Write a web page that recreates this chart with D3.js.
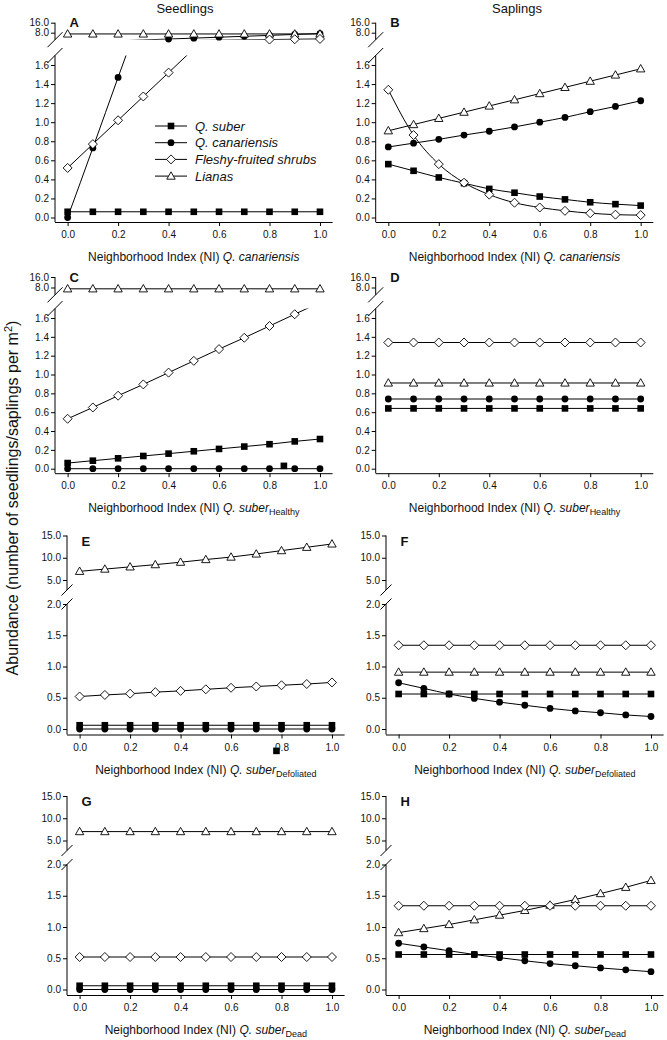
<!DOCTYPE html>
<html><head><meta charset="utf-8">
<script src="https://cdn.jsdelivr.net/npm/d3@7"></script>
<style>
body{margin:0;background:#fff}
svg{display:block}
text{font-family:"Liberation Sans",Arial,sans-serif;fill:#111}
</style>
</head><body>
<svg id="c" width="667" height="1040"></svg>
<script>
// ---------- DATA ----------
const niValues = [0, 0.1, 0.2, 0.3, 0.4, 0.5, 0.6, 0.7, 0.8, 0.9, 1.0];
const xTicks = [0, 0.2, 0.4, 0.6, 0.8, 1.0];
const seriesNames = ["Q. suber", "Q. canariensis", "Fleshy-fruited shrubs", "Lianas"];
const columnTitles = ["Seedlings", "Saplings"];
const panelLetters = ["A", "B", "C", "D", "E", "F", "G", "H"];
const yTicksLowSmall = [0, 0.2, 0.4, 0.6, 0.8, 1.0, 1.2, 1.4, 1.6];
const yTicksTopSmall = [8, 16];
const yTicksLowLarge = [0, 0.5, 1.0, 1.5, 2.0];
const yTicksTopLarge = [5, 10, 15];
const xTitleSpecies = ["Q. canariensis", "Q. suber", "Q. suber", "Q. suber"];
const xTitleSubscript = ["", "Healthy", "Defoliated", "Dead"];

// A: seedlings vs NI Q. canariensis
const A_suber = [0.06, 0.06, 0.06, 0.06, 0.06, 0.06, 0.06, 0.06, 0.06, 0.06, 0.06];
const A_canariensis = [0.00, 0.73, 1.47, 2.20, 2.93, 3.65, 4.40, 5.12, 5.85, 6.60, 7.32];
const A_fleshy = [0.52, 0.77, 1.02, 1.27, 1.52, 1.77, 2.02, 2.27, 2.52, 2.77, 3.02];
const A_lianas = [7.0, 7.0, 7.0, 7.0, 7.0, 7.0, 7.0, 7.0, 7.0, 7.0, 7.0];
// B: saplings vs NI Q. canariensis
const B_suber = [0.56, 0.49, 0.42, 0.36, 0.30, 0.26, 0.22, 0.19, 0.16, 0.14, 0.125];
const B_canariensis = [0.74, 0.78, 0.82, 0.865, 0.905, 0.95, 1.0, 1.05, 1.11, 1.165, 1.225];
const B_fleshy = [1.34, 0.865, 0.56, 0.365, 0.24, 0.155, 0.105, 0.07, 0.045, 0.03, 0.025];
const B_lianas = [0.91, 0.975, 1.04, 1.105, 1.17, 1.235, 1.30, 1.365, 1.43, 1.495, 1.56];
// C: seedlings vs NI Q. suber Healthy
const C_suber = [0.06, 0.085, 0.11, 0.135, 0.16, 0.185, 0.21, 0.235, 0.26, 0.29, 0.315];
const C_canariensis = [0, 0, 0, 0, 0, 0, 0, 0, 0, 0, 0];
const C_fleshy = [0.53, 0.65, 0.775, 0.895, 1.02, 1.145, 1.27, 1.39, 1.515, 1.64, 1.765];
const C_lianas = [7.0, 7.0, 7.0, 7.0, 7.0, 7.0, 7.0, 7.0, 7.0, 7.0, 7.0];
const C_strayX = [0.857];
const C_strayY = [0.03];
// D: saplings vs NI Q. suber Healthy
const D_suber = [0.64, 0.64, 0.64, 0.64, 0.64, 0.64, 0.64, 0.64, 0.64, 0.64, 0.64];
const D_canariensis = [0.74, 0.74, 0.74, 0.74, 0.74, 0.74, 0.74, 0.74, 0.74, 0.74, 0.74];
const D_fleshy = [1.34, 1.34, 1.34, 1.34, 1.34, 1.34, 1.34, 1.34, 1.34, 1.34, 1.34];
const D_lianas = [0.91, 0.91, 0.91, 0.91, 0.91, 0.91, 0.91, 0.91, 0.91, 0.91, 0.91];
// E: seedlings vs NI Q. suber Defoliated
const E_suber = [0.06, 0.06, 0.06, 0.06, 0.06, 0.06, 0.06, 0.06, 0.06, 0.06, 0.06];
const E_canariensis = [0, 0, 0, 0, 0, 0, 0, 0, 0, 0, 0];
const E_fleshy = [0.52, 0.545, 0.565, 0.59, 0.61, 0.635, 0.66, 0.68, 0.70, 0.72, 0.745];
const E_lianas = [6.95, 7.45, 7.95, 8.45, 9.0, 9.6, 10.15, 10.85, 11.6, 12.35, 13.1];
const E_strayX = [0.78];
const E_strayY = [-0.35];
// F: saplings vs NI Q. suber Defoliated
const F_suber = [0.56, 0.56, 0.56, 0.56, 0.56, 0.56, 0.56, 0.56, 0.56, 0.56, 0.56];
const F_canariensis = [0.74, 0.65, 0.56, 0.49, 0.43, 0.38, 0.33, 0.29, 0.26, 0.225, 0.20];
const F_fleshy = [1.34, 1.34, 1.34, 1.34, 1.34, 1.34, 1.34, 1.34, 1.34, 1.34, 1.34];
const F_lianas = [0.91, 0.91, 0.91, 0.91, 0.91, 0.91, 0.91, 0.91, 0.91, 0.91, 0.91];
// G: seedlings vs NI Q. suber Dead
const G_suber = [0.06, 0.06, 0.06, 0.06, 0.06, 0.06, 0.06, 0.06, 0.06, 0.06, 0.06];
const G_canariensis = [0, 0, 0, 0, 0, 0, 0, 0, 0, 0, 0];
const G_fleshy = [0.52, 0.52, 0.52, 0.52, 0.52, 0.52, 0.52, 0.52, 0.52, 0.52, 0.52];
const G_lianas = [7.0, 7.0, 7.0, 7.0, 7.0, 7.0, 7.0, 7.0, 7.0, 7.0, 7.0];
// H: saplings vs NI Q. suber Dead
const H_suber = [0.56, 0.56, 0.56, 0.56, 0.56, 0.56, 0.56, 0.56, 0.56, 0.56, 0.56];
const H_canariensis = [0.74, 0.68, 0.62, 0.56, 0.51, 0.46, 0.415, 0.38, 0.345, 0.315, 0.285];
const H_fleshy = [1.34, 1.34, 1.34, 1.34, 1.34, 1.34, 1.34, 1.34, 1.34, 1.34, 1.34];
const H_lianas = [0.91, 0.975, 1.04, 1.115, 1.19, 1.265, 1.35, 1.44, 1.535, 1.635, 1.745];

// ---------- LAYOUT ----------
const svg = d3.select("#c");
const rowLayout = [
  {topRef: [8, 16], topPx: [32.7, 22.7], topExt: [2.4, 16], lowRef: [0, 1.6], lowPx: [217.5, 65], lowExt: [0, 1.7], xPad: 4.5, brk: 7.5, letterDy: 4, topTicks: yTicksTopSmall, lowTicks: yTicksLowSmall},
  {topRef: [8, 16], topPx: [287.5, 277], topExt: [2.4, 16], lowRef: [0, 1.6], lowPx: [468.7, 318], lowExt: [0, 1.7], xPad: 4.5, brk: 7.5, letterDy: 5, topTicks: yTicksTopSmall, lowTicks: yTicksLowSmall},
  {topRef: [5, 15], topPx: [580, 535.5], topExt: [2.75, 15], lowRef: [0, 2], lowPx: [729, 604], lowExt: [0, 2], xPad: 5.5, brk: 5.5, letterDy: 10.5, topTicks: yTicksTopLarge, lowTicks: yTicksLowLarge},
  {topRef: [5, 15], topPx: [840.5, 796], topExt: [2.75, 15], lowRef: [0, 2], lowPx: [989.5, 864.5], lowExt: [0, 2], xPad: 5.5, brk: 5.5, letterDy: 10, topTicks: yTicksTopLarge, lowTicks: yTicksLowLarge}
];
const axisXByPanel = [55, 375.7, 55, 375.7, 67, 386, 67, 386];
const panelData = [
  {s: [A_suber, A_canariensis, A_fleshy, A_lianas]},
  {s: [B_suber, B_canariensis, B_fleshy, B_lianas]},
  {s: [C_suber, C_canariensis, C_fleshy, C_lianas], strayX: C_strayX, strayY: C_strayY},
  {s: [D_suber, D_canariensis, D_fleshy, D_lianas]},
  {s: [E_suber, E_canariensis, E_fleshy, E_lianas], strayX: E_strayX, strayY: E_strayY},
  {s: [F_suber, F_canariensis, F_fleshy, F_lianas]},
  {s: [G_suber, G_canariensis, G_fleshy, G_lianas]},
  {s: [H_suber, H_canariensis, H_fleshy, H_lianas]}
];

// marker drawing: 0 square filled, 1 circle filled, 2 diamond open, 3 triangle open
function marker(g, type, cx, cy) {
  if (type === 0) {
    g.append("rect").attr("x", cx - 3.3).attr("y", cy - 3.3).attr("width", 6.6).attr("height", 6.6)
      .attr("fill", "#000");
  } else if (type === 1) {
    g.append("circle").attr("cx", cx).attr("cy", cy).attr("r", 3.4).attr("fill", "#000");
  } else if (type === 2) {
    const h = 4.5;
    g.append("path").attr("d", `M${cx},${cy - h}L${cx + h},${cy}L${cx},${cy + h}L${cx - h},${cy}Z`)
      .attr("fill", "#fff").attr("stroke", "#000").attr("stroke-width", 0.9);
  } else {
    const w = 4.2, hh = 3.7;
    g.append("path").attr("d", `M${cx},${cy - hh - 0.6}L${cx + w},${cy + hh - 0.6}L${cx - w},${cy + hh - 0.6}Z`)
      .attr("fill", "#fff").attr("stroke", "#000").attr("stroke-width", 0.9);
  }
}
const drawOrder = [1, 0, 3, 2];
const fmt = d3.format(".1f");

panelData.forEach((pd, i) => {
  const row = Math.floor(i / 2);
  const L = rowLayout[row];
  const ax = axisXByPanel[i];
  const g = svg.append("g");
  const x = d3.scaleLinear().domain([-0.05, 1.05]).range([ax, ax + 277.6]);
  const yT = d3.scaleLinear().domain(L.topRef).range(L.topPx);
  const yL = d3.scaleLinear().domain(L.lowRef).range(L.lowPx);
  const xAxisY = yL(0) + L.xPad;
  const segs = [
    {y: yT, ext: L.topExt, y0: yT(L.topExt[1]) - 6, y1: yT(L.topExt[0])},
    {y: yL, ext: L.lowExt, y0: yL(L.lowExt[1]), y1: xAxisY}
  ];
  segs.forEach((sg, k) => {
    const id = `clip${i}_${k}`;
    svg.append("clipPath").attr("id", id).append("rect")
      .attr("x", ax).attr("y", sg.y0).attr("width", 277.6).attr("height", sg.y1 - sg.y0);
    const lg = g.append("g").attr("clip-path", `url(#${id})`);
    const line = d3.line().x(d => x(d[0])).y(d => sg.y(d[1])).curve(d3.curveMonotoneX);
    drawOrder.forEach(si => {
      const pts = niValues.map((v, j) => [v, pd.s[si][j]]);
      lg.append("path").attr("d", line(pts)).attr("fill", "none").attr("stroke", "#000").attr("stroke-width", 1);
    });
    drawOrder.forEach(si => {
      niValues.forEach((v, j) => {
        const val = pd.s[si][j];
        if (val >= sg.ext[0] - 1e-9 && val <= sg.ext[1]) marker(g, si, x(v), sg.y(val));
      });
    });
  });
  if (pd.strayX) pd.strayX.forEach((v, j) => marker(g, 0, x(v), yL(pd.strayY[j])));

  // Y axes
  const axG = g.append("g").attr("transform", `translate(${ax},0)`);
  axG.append("g").call(d3.axisLeft(yT).tickValues(L.topTicks).tickSize(4).tickPadding(2).tickFormat(fmt))
    .call(a => a.select(".domain").remove());
  axG.append("g").call(d3.axisLeft(yL).tickValues(L.lowTicks).tickSize(4).tickPadding(2).tickFormat(fmt))
    .call(a => a.select(".domain").remove());
  axG.selectAll(".tick text").attr("font-size", 10).attr("font-family", "Liberation Sans, Arial, sans-serif").attr("fill", "#111");
  axG.selectAll(".tick line").attr("stroke", "#000");
  const topB = yT(L.topExt[0]), lowT = yL(L.lowExt[1]);
  g.append("line").attr("x1", ax).attr("x2", ax).attr("y1", yT(L.topExt[1])).attr("y2", topB).attr("stroke", "#000");
  g.append("line").attr("x1", ax).attr("x2", ax).attr("y1", lowT).attr("y2", xAxisY).attr("stroke", "#000");
  [topB, lowT].forEach(yy => g.append("line")
    .attr("x1", ax - L.brk).attr("y1", yy + L.brk).attr("x2", ax + L.brk).attr("y2", yy - L.brk)
    .attr("stroke", "#000").attr("stroke-width", 1));

  // X axis
  const xg = g.append("g").attr("transform", `translate(0,${xAxisY})`)
    .call(d3.axisBottom(x).tickValues(xTicks).tickSize(4).tickPadding(5).tickFormat(fmt));
  xg.select(".domain").attr("stroke", "#000").attr("d", `M${ax},0.5H${ax + 277.6}`);
  xg.selectAll(".tick text").attr("font-size", 10).attr("font-family", "Liberation Sans, Arial, sans-serif").attr("fill", "#111");
  xg.selectAll(".tick line").attr("stroke", "#000");

  // x title
  const t = g.append("text").attr("x", x(0.5)).attr("y", xAxisY + 39).attr("text-anchor", "middle").attr("font-size", 12);
  t.append("tspan").text("Neighborhood Index (NI) ");
  t.append("tspan").attr("font-style", "italic").text(xTitleSpecies[row]);
  if (xTitleSubscript[row]) t.append("tspan").attr("font-size", 9).attr("dy", 3).text(xTitleSubscript[row]);

  // panel letter
  g.append("text").attr("x", ax + 14.5).attr("y", L.topPx[1] + L.letterDy).attr("font-size", 13).attr("font-weight", "bold")
    .text(panelLetters[i]);

  // legend in A
  if (i === 0) {
    seriesNames.forEach((nm, k) => {
      const ly = 126 + k * 16.7;
      g.append("line").attr("x1", 155).attr("x2", 187).attr("y1", ly).attr("y2", ly).attr("stroke", "#000");
      marker(g, k, 171, ly);
      g.append("text").attr("x", 195).attr("y", ly + 4.5).attr("font-size", 13).attr("font-style", "italic").text(nm);
    });
  }
});

// column titles
svg.append("text").attr("x", 185).attr("y", 13).attr("text-anchor", "middle").attr("font-size", 13).text(columnTitles[0]);
svg.append("text").attr("x", 517).attr("y", 13).attr("text-anchor", "middle").attr("font-size", 13).text(columnTitles[1]);

// y title
const yt = svg.append("text").attr("transform", "translate(18,498) rotate(-90)").attr("text-anchor", "middle").attr("font-size", 16);
yt.append("tspan").text("Abundance (number of seedlings/saplings per m");
yt.append("tspan").attr("font-size", 11).attr("dy", -6).text("2");
yt.append("tspan").attr("dy", 6).text(")");
</script>
</body></html>
